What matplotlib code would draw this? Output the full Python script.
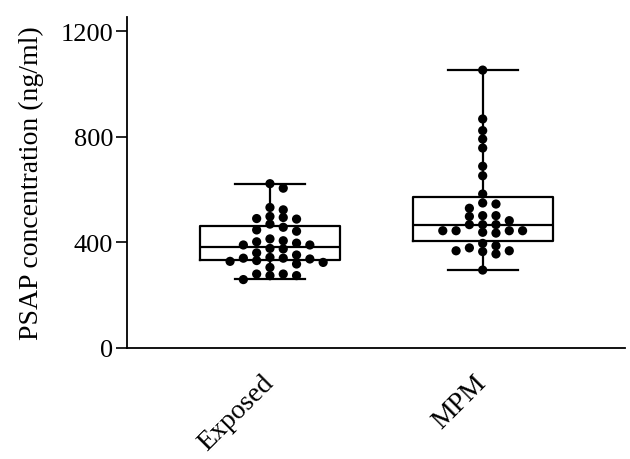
import numpy as np
import matplotlib
matplotlib.use("Agg")
import matplotlib.pyplot as plt
import matplotlib.transforms as mtrans

# ---- data ----
categories = ["Exposed", "MPM"]

exposed = [622, 605, 532, 523, 498, 494, 490, 488, 469, 457, 447, 442,
           413, 406, 402, 397, 390, 390, 377, 375, 360, 352, 343, 340,
           340, 337, 331, 328, 324, 318, 305, 280, 280, 274, 274, 259]
mpm = [1052, 867, 823, 791, 757, 688, 652, 583, 549, 545, 529, 501, 501,
       498, 482, 467, 467, 467, 444, 444, 444, 444, 438, 435, 396, 387,
       379, 368, 368, 365, 356, 295]

# box statistics (min, Q1, median, Q3, max)
box_min = [261, 295]
box_q1 = [334, 406]
box_med = [382, 467]
box_q3 = [461, 570]
box_max = [622, 1052]

yticks = [0, 400, 800, 1200]

plt.rcParams['font.family'] = ['Liberation Serif', 'DejaVu Serif']

W, H = 630, 460
fig = plt.figure(figsize=(W / 100, H / 100), dpi=100)
ax = fig.add_axes([127 / W, 1 - 349 / H, (625 - 127) / W, (349 - 18) / H])

xlim = (-0.672, 1.669)
ylim = (0, 1253)
ax.set_xlim(*xlim)
ax.set_ylim(*ylim)

# boxes
stats = []
for i, lab in enumerate(categories):
    stats.append(dict(label=lab, whislo=box_min[i], q1=box_q1[i], med=box_med[i],
                      q3=box_q3[i], whishi=box_max[i], fliers=[]))
lw = 1.6
ax.bxp(stats, positions=[0, 1], widths=0.658, showfliers=False,
       boxprops=dict(color='black', linewidth=lw),
       medianprops=dict(color='black', linewidth=lw),
       whiskerprops=dict(color='black', linewidth=lw),
       capprops=dict(color='black', linewidth=lw),
       capwidths=0.329, zorder=2)

# quantized scatter of dots (positions computed from values)
ax_w_px = 625 - 127
ax_h_px = 349 - 18
px_x = (xlim[1] - xlim[0]) / ax_w_px
px_y = (ylim[1] - ylim[0]) / ax_h_px
step = 13.3 * px_x
min_dy_px = 7.5


def swarm(values, center):
    placed = []
    cands = [0.0]
    for k in range(1, 20):
        cands += [k * 0.5, -k * 0.5]
    for v in sorted(values, reverse=True):
        for c in cands:
            x = center + c * step
            ok = True
            for (px, py) in placed:
                dx = abs(x - px) / px_x
                dy = abs(v - py) / px_y
                if dx < 0.95 * 13.3 and dy < min_dy_px:
                    ok = False
                    break
            if ok:
                placed.append((x, v))
                break
    return placed


for i, vals in enumerate([exposed, mpm]):
    pts = swarm(vals, i)
    ax.scatter([p[0] for p in pts], [p[1] for p in pts], s=44, color='black',
               edgecolors='none', zorder=3)

ax.spines['top'].set_visible(False)
ax.spines['right'].set_visible(False)
for s in ['left', 'bottom']:
    ax.spines[s].set_linewidth(1.3)

ax.set_yticks(yticks)
ax.set_yticklabels([str(t) for t in yticks], fontsize=19)
ax.tick_params(axis='y', length=8, width=1.2, pad=2)
ax.set_xticks([0, 1])
ax.set_xticklabels(categories, fontsize=20, rotation=45, ha='right', va='top')
ax.tick_params(axis='x', length=0, pad=16)
off = mtrans.ScaledTranslation(9 / 100, 0, fig.dpi_scale_trans)
for lab in ax.get_xticklabels():
    lab.set_transform(lab.get_transform() + off)
ax.set_ylabel("PSAP concentration (ng/ml)", fontsize=20, labelpad=12)

fig.savefig("out.png", dpi=100)
